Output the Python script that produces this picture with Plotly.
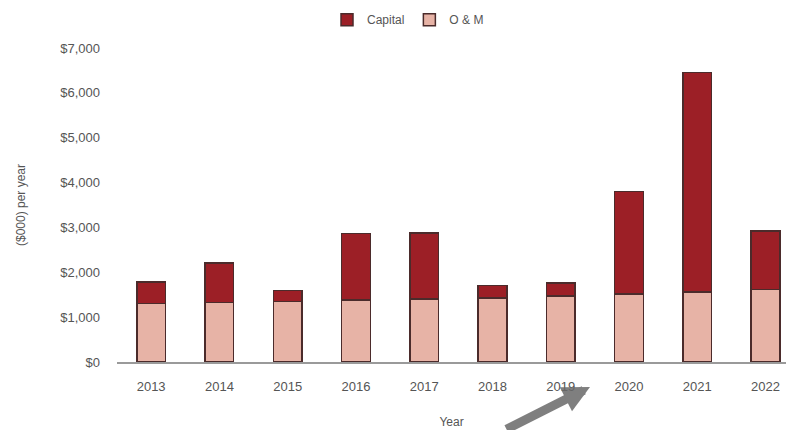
import plotly.graph_objects as go

# Annual costs in thousands of dollars
years = ["2013", "2014", "2015", "2016", "2017", "2018", "2019", "2020", "2021", "2022"]
om_costs = [1300, 1330, 1350, 1380, 1400, 1430, 1470, 1520, 1560, 1620]
capital_costs = [480, 880, 240, 1490, 1480, 270, 290, 2280, 4890, 1300]
y_ticks = [0, 1000, 2000, 3000, 4000, 5000, 6000, 7000]

W, H = 786, 430
ML, MR, MT, MB = 117, 0, 48, 68
PW, PH = W - ML - MR, H - MT - MB

def px_to_paper(px, py):
    return (px - ML) / PW, (H - MB - py) / PH

fig = go.Figure()
fig.add_trace(go.Bar(
    x=years, y=om_costs, name="O & M",
    marker=dict(color="#e7b3a6", line=dict(color="#4b2b2b", width=1.5)),
    width=0.42,
))
fig.add_trace(go.Bar(
    x=years, y=capital_costs, name="Capital",
    marker=dict(color="#9c1f26", line=dict(color="#4b2b2b", width=1.5)),
    width=0.42,
))

font_family = "Liberation Sans, Arial, sans-serif"
grey = "#555555"

# Pen stroke pointing at the 2019 label
tip_x, tip_y = px_to_paper(590, 387)
fig.add_annotation(
    x=tip_x, y=tip_y, xref="paper", yref="paper",
    ax=-85, ay=46, text="", showarrow=True,
    arrowhead=2, arrowsize=0.6, arrowwidth=9, arrowcolor="rgba(105,105,105,0.85)",
)

fig.update_layout(
    width=W, height=H,
    margin=dict(l=ML, r=MR, t=MT, b=MB),
    paper_bgcolor="white", plot_bgcolor="white",
    barmode="stack",
    font=dict(family=font_family, color=grey, size=13),
    legend=dict(
        orientation="h", x=0.435, xanchor="center", y=1.09, yanchor="middle",
        traceorder="reversed", font=dict(size=12, color=grey),
        itemwidth=30,
    ),
    xaxis=dict(
        range=[-0.5, 9.3], showline=True, linecolor="#9a9a9a", linewidth=1.5,
        ticks="", showgrid=False, ticklabelstandoff=12,
        title=dict(text="Year", font=dict(size=12, color=grey), standoff=24),
        tickfont=dict(size=13, color=grey),
    ),
    yaxis=dict(
        range=[0, 7000], tickvals=y_ticks,
        ticktext=[f"${v:,}" for v in y_ticks],
        showgrid=False, zeroline=False, showline=False,
        tickfont=dict(size=13, color=grey), ticklen=0, ticklabelstandoff=16,
        title=dict(text="($000) per year", font=dict(size=12, color=grey), standoff=32),
    ),
)

fig.write_html("out.html")
